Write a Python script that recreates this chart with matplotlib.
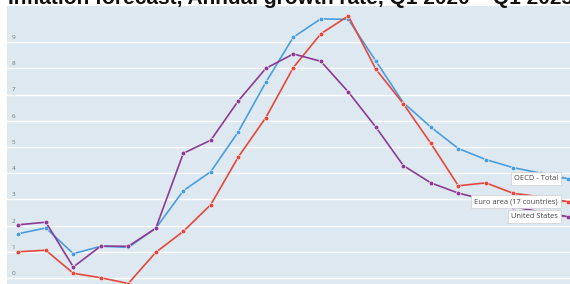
import matplotlib
matplotlib.use("Agg")
import matplotlib.pyplot as plt
import numpy as np

plt.rcParams['font.family'] = ['Open Sans', 'DejaVu Sans']

# quarters Q1 2020 .. Q1 2025
quarters = ["Q1 2020", "Q2 2020", "Q3 2020", "Q4 2020",
            "Q1 2021", "Q2 2021", "Q3 2021", "Q4 2021",
            "Q1 2022", "Q2 2022", "Q3 2022", "Q4 2022",
            "Q1 2023", "Q2 2023", "Q3 2023", "Q4 2023",
            "Q1 2024", "Q2 2024", "Q3 2024", "Q4 2024",
            "Q1 2025"]

oecd_total = [1.69, 1.91, 0.93, 1.21, 1.17, 1.90, 3.33, 4.06, 5.58, 7.47,
              9.19, 9.89, 9.87, 8.28, 6.69, 5.76, 4.94, 4.52, 4.21, 4.00, 3.79]
euro_area = [1.00, 1.06, 0.18, 0.01, -0.21, 0.98, 1.78, 2.80, 4.62, 6.12,
             8.03, 9.32, 10.00, 7.97, 6.65, 5.14, 3.52, 3.63, 3.23, 3.10, 2.91]
united_states = [2.03, 2.13, 0.42, 1.22, 1.21, 1.90, 4.76, 5.26, 6.76, 8.00,
                 8.55, 8.27, 7.10, 5.76, 4.29, 3.63, 3.24, 2.98, 2.72, 2.52, 2.34]

series = [
    ("OECD - Total", oecd_total, "#4a9ee0"),
    ("Euro area (17 countries)", euro_area, "#e5473d"),
    ("United States", united_states, "#8d3b93"),
]

bg = "#dde8f0"

fig = plt.figure(figsize=(5.7, 2.84), dpi=100)
fig.patch.set_facecolor("white")
ax = fig.add_axes([7 / 570, 0, 563 / 570, 278 / 284])
ax.set_facecolor(bg)

x = np.arange(len(quarters))

for name, vals, col in series:
    ax.plot(x, vals, color=col, linewidth=1.2, marker="o", markersize=3.4,
            markeredgecolor="white", markeredgewidth=0.4, clip_on=False, zorder=3)

ax.set_xlim(-0.411, 20.06)
ax.set_ylim(-0.229, 10.38)

# gridlines + inside labels
for v in range(0, 10):
    ax.axhline(v, color="white", linewidth=1.0, zorder=1)
    ax.annotate(str(v), xy=(0, v), xycoords=("axes fraction", "data"),
                xytext=(3.5, 1.5), textcoords="offset points",
                fontsize=4.6, color="#777777", ha="left", va="bottom")

ax.set_xticks([])
ax.set_yticks([])
for s in ax.spines.values():
    s.set_visible(False)

# end labels
for name, vals, col in series:
    ax.annotate(name, xy=(x[-1], vals[-1]), xytext=(-7.5, 0),
                textcoords="offset points", ha="right", va="center",
                fontsize=5.4, color="#444444",
                bbox=dict(boxstyle="square,pad=0.4", fc="white", ec="#cfcfcf", lw=0.5),
                arrowprops=dict(arrowstyle="-", linestyle="--", color=col, lw=0.6,
                                shrinkA=0, shrinkB=1),
                zorder=5, annotation_clip=False)

fig.text(8 / 570, 1 - 4 / 284, "Inflation forecast, Annual growth rate, Q1 2020 \u2013 Q1 2025",
         fontsize=15.0, fontweight="bold", family=["Liberation Sans", "DejaVu Sans"],
         ha="left", va="baseline", color="#111111")

fig.savefig("out.png", dpi=100)
